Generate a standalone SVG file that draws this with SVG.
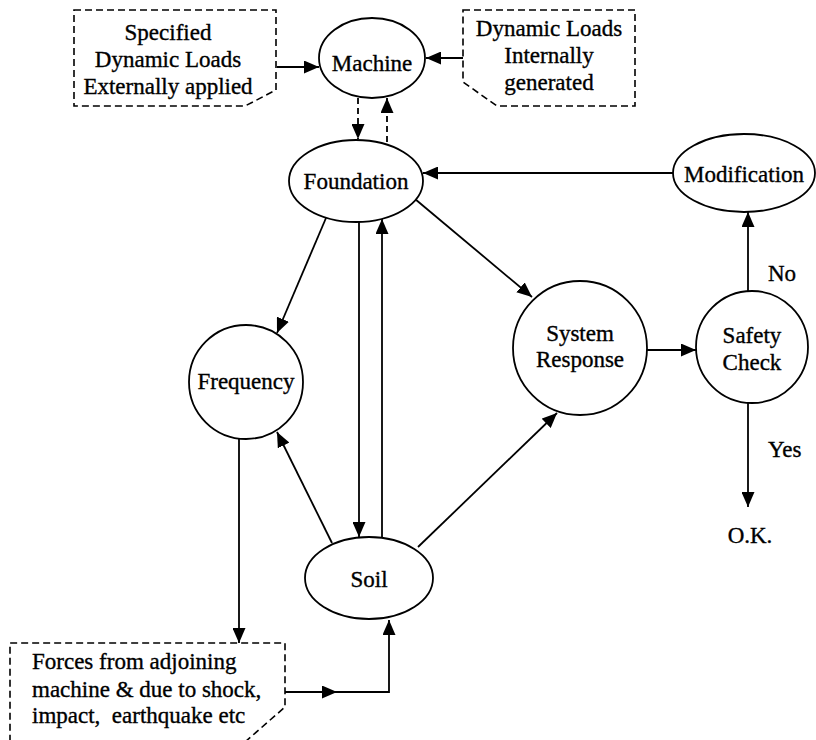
<svg xmlns="http://www.w3.org/2000/svg" width="816" height="740" viewBox="0 0 816 740">
<defs>
<marker id="ah" markerUnits="userSpaceOnUse" markerWidth="16" markerHeight="13" refX="15" refY="6.5" orient="auto">
<path d="M0,0 L15,6.5 L0,13 Z" fill="#000"/>
</marker>
<style>
text{font-family:"Liberation Serif","Times New Roman",serif;font-size:23px;fill:#000;stroke:#000;stroke-width:0.35;text-anchor:middle}
.n{fill:#fff;stroke:#000;stroke-width:1.8}
.b{fill:#fff;stroke:#000;stroke-width:1.6;stroke-dasharray:7,4}
.c line,.c path{fill:none;stroke:#000;stroke-width:1.8}
.c .d{stroke-dasharray:6,4}
.l{text-anchor:start}
</style>
</defs>
<rect width="816" height="740" fill="#fff"/>

<g class="c" id="connectors">
<line x1="277" y1="67" x2="319" y2="67" marker-end="url(#ah)"/>
<line x1="463" y1="58" x2="426" y2="58" marker-end="url(#ah)"/>
<line class="d" x1="358" y1="98" x2="358" y2="139" marker-end="url(#ah)"/>
<line class="d" x1="387" y1="142" x2="387" y2="98" marker-end="url(#ah)"/>
<line x1="673" y1="173" x2="423" y2="173" marker-end="url(#ah)"/>
<line x1="326" y1="218" x2="277" y2="333" marker-end="url(#ah)"/>
<line x1="359" y1="222" x2="359" y2="537" marker-end="url(#ah)"/>
<line x1="382" y1="537" x2="382" y2="219" marker-end="url(#ah)"/>
<line x1="415" y1="199" x2="532" y2="297" marker-end="url(#ah)"/>
<line x1="239" y1="438" x2="239" y2="643" marker-end="url(#ah)"/>
<line x1="332" y1="543" x2="277" y2="432" marker-end="url(#ah)"/>
<line x1="418" y1="547" x2="557" y2="413" marker-end="url(#ah)"/>
<line x1="285" y1="692" x2="337" y2="692" marker-end="url(#ah)"/>
<path d="M336,692 H389 V620" marker-end="url(#ah)"/>
<line x1="647" y1="350" x2="696" y2="350" marker-end="url(#ah)"/>
<line x1="748" y1="291" x2="748" y2="212" marker-end="url(#ah)"/>
<line x1="748" y1="403" x2="748" y2="507" marker-end="url(#ah)"/>
</g>

<g id="box-external">
<path class="b" d="M74,10 H276 V90 L245,106 H74 Z"/>
<text x="168" y="40">Specified</text>
<text x="168" y="67">Dynamic Loads</text>
<text x="168" y="94">Externally applied</text>
</g>

<g id="box-internal">
<path class="b" d="M463,10 H635 V106 H497 L463,82 Z"/>
<text x="549" y="36">Dynamic Loads</text>
<text x="549" y="63">Internally</text>
<text x="549" y="90">generated</text>
</g>

<g id="machine">
<ellipse class="n" cx="372" cy="58" rx="53" ry="40"/>
<text x="372" y="71">Machine</text>
</g>

<g id="foundation">
<ellipse class="n" cx="356" cy="181" rx="67" ry="41"/>
<text x="356" y="189">Foundation</text>
</g>

<g id="modification">
<ellipse class="n" cx="744" cy="173" rx="71" ry="39"/>
<text x="744" y="182">Modification</text>
</g>

<g id="frequency">
<circle class="n" cx="246" cy="382" r="57"/>
<text x="246" y="389">Frequency</text>
</g>

<g id="system-response">
<circle class="n" cx="580" cy="348" r="67"/>
<text x="580" y="341">System</text>
<text x="580" y="367">Response</text>
</g>

<g id="safety-check">
<circle class="n" cx="752" cy="347" r="56"/>
<text x="752" y="343">Safety</text>
<text x="752" y="370">Check</text>
</g>

<g id="soil">
<ellipse class="n" cx="369" cy="578" rx="64" ry="41"/>
<text x="369" y="587">Soil</text>
</g>

<g id="box-forces">
<path class="b" d="M245,742 L285,707 V643 H10 V742"/>
<text class="l" x="32" y="669">Forces from adjoining</text>
<text class="l" x="32" y="697">machine &amp; due to shock,</text>
<text class="l" x="32" y="723" xml:space="preserve">impact,  earthquake etc</text>
</g>

<g id="labels">
<text class="l" x="768" y="281">No</text>
<text class="l" x="768" y="457">Yes</text>
<text x="750" y="543">O.K.</text>
</g>
</svg>
